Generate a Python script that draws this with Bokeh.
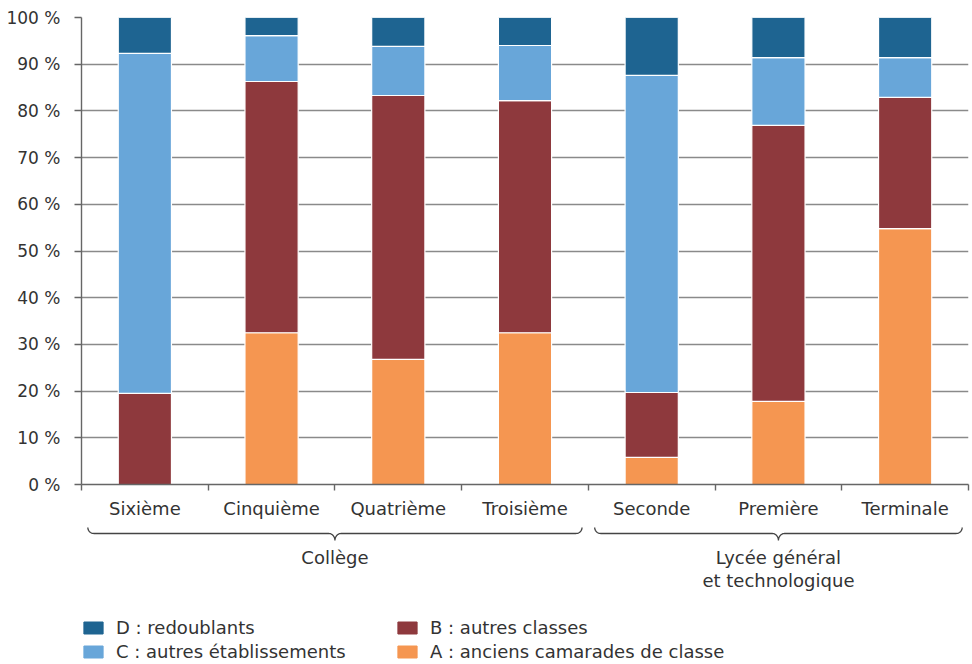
import numpy as np
from bokeh.plotting import figure
from bokeh.models import (ColumnDataSource, Range1d, FixedTicker, Legend, LegendItem)
from bokeh.layouts import column
from bokeh.core.properties import value
from bokeh.embed import file_html
from bokeh.resources import INLINE

# ---- data ----
categories = ["Sixième", "Cinquième", "Quatrième", "Troisième", "Seconde", "Première", "Terminale"]
serie_A = [0.0, 32.5, 26.8, 32.5, 5.8, 17.8, 54.8]    # anciens camarades de classe
serie_B = [19.5, 53.8, 56.5, 49.7, 13.9, 59.1, 28.1]  # autres classes
serie_C = [72.8, 9.8, 10.5, 11.8, 67.9, 14.5, 8.5]    # autres établissements
serie_D = [7.7, 3.9, 6.2, 6.0, 12.4, 8.6, 8.6]        # redoublants
y_ticks = [0, 10, 20, 30, 40, 50, 60, 70, 80, 90, 100]
groups = ["Collège", "Lycée général\net technologique"]
group_start = [0, 4]
group_end = [4, 7]
legend_labels = {"D": "D : redoublants", "C": "C : autres établissements",
                 "B": "B : autres classes", "A": "A : anciens camarades de classe"}

colors = {"A": "#f59651", "B": "#8e393d", "C": "#68a6d9", "D": "#1e6491"}
FONT = "DejaVu Sans"
FS = "18px"
FS_Y = "17px"
TXT = "#333333"

n = len(categories)
xs = [i + 0.5 for i in range(n)]
source = ColumnDataSource(dict(x=xs, A=serie_A, B=serie_B, C=serie_C, D=serie_D))

W = 970
p = figure(width=W, height=524, x_range=Range1d(0, n), y_range=Range1d(0, 100),
           output_backend="svg", toolbar_location=None,
           min_border_left=81, min_border_right=2, min_border_top=17, min_border_bottom=40)
p.outline_line_color = None
p.background_fill_color = "white"

keys = ["A", "B", "C", "D"]
p.vbar_stack(keys, x="x", width=0.42, source=source,
             fill_color=[colors[k] for k in keys], line_color="white", line_width=1.2)

# grid
p.xgrid.visible = False
p.ygrid.ticker = FixedTicker(ticks=y_ticks)
p.ygrid.grid_line_color = "#8a8a8a"
p.ygrid.grid_line_width = 1.4

# y axis
ya = p.yaxis[0]
ya.ticker = FixedTicker(ticks=y_ticks)
ya.major_label_overrides = {t: f"{t} %" for t in y_ticks}
ya.bounds = (0, 100)
ya.axis_line_color = "#666666"
ya.axis_line_width = 1.4
ya.major_tick_line_color = "#666666"
ya.major_tick_line_width = 1.4
ya.major_tick_out = 7
ya.major_tick_in = 0
ya.minor_tick_line_color = None
ya.major_label_standoff = 14
ya.major_label_text_font = FONT
ya.major_label_text_font_size = FS_Y
ya.major_label_text_color = TXT

# x axis
xa = p.xaxis[0]
xa.ticker = FixedTicker(ticks=xs, minor_ticks=list(range(n + 1)))
xa.major_label_overrides = {x: c for x, c in zip(xs, categories)}
xa.major_tick_line_color = None
xa.minor_tick_line_color = "#666666"
xa.minor_tick_line_width = 1.4
xa.minor_tick_out = 6
xa.minor_tick_in = 0
xa.axis_line_color = "#666666"
xa.axis_line_width = 1.4
xa.major_label_standoff = 7
xa.major_label_text_font = FONT
xa.major_label_text_font_size = FS
xa.major_label_text_color = TXT

# ---- lower panel: braces, group labels, legend ----
H2 = 139
p2 = figure(width=W, height=H2, x_range=p.x_range, y_range=Range1d(H2, 0),
            output_backend="svg", toolbar_location=None,
            min_border_left=81, min_border_right=2, min_border_top=0, min_border_bottom=0,
            x_axis_location=None, y_axis_location=None)
p2.grid.visible = False
p2.outline_line_color = None


def brace(x0, x1, ytop=3.0, ymid=9.0, ytip=16.0, rx=0.048):
    c = (x0 + x1) / 2
    t = np.linspace(0, np.pi / 2, 14)
    h = ymid - ytop
    d = ytip - ymid
    bx, by = [], []
    bx += list(x0 + rx - rx * np.cos(t)); by += list(ytop + h * np.sin(t))
    bx += list(c - rx + rx * np.sin(t)); by += list(ytip - d * np.cos(t))
    bx += list(c + rx - rx * np.cos(t)); by += list(ytip - d * np.sin(t))
    bx += list(x1 - rx + rx * np.sin(t)); by += list(ymid - h * (1 - np.cos(t)))
    return bx, by


bxs, bys = [], []
for s, e in zip(group_start, group_end):
    bx, by = brace(s + 0.05, e - 0.05)
    bxs.append(bx); bys.append(by)
p2.multi_line(xs=bxs, ys=bys, line_color="#444444", line_width=1.3)

p2.text(x=[(s + e) / 2 for s, e in zip(group_start, group_end)], y=[22] * len(groups), text=groups,
        text_align="center", text_baseline="top", text_font=value(FONT),
        text_font_size=FS, text_color=TXT, text_line_height=1.1)

rend = {}
for k in keys:
    rend[k] = p2.vbar(x=[float("nan")], top=[float("nan")], width=0.1,
                      fill_color=colors[k], line_color=colors[k])


def make_legend(items, loc):
    lg = Legend(items=[LegendItem(label=legend_labels[k], renderers=[rend[k]]) for k in items],
                location=loc, orientation="vertical")
    lg.glyph_width = 24
    lg.glyph_height = 15
    lg.label_standoff = 11
    lg.label_height = 20
    lg.spacing = 3
    lg.padding = 0
    lg.margin = 0
    lg.border_line_color = None
    lg.background_fill_alpha = 0
    lg.label_text_font = FONT
    lg.label_text_font_size = FS
    lg.label_text_color = TXT
    return lg


p2.add_layout(make_legend(["D", "C"], (0, 1)))
p2.add_layout(make_legend(["B", "A"], (314, 1)))

layout = column(p, p2, spacing=0)
open("out.html", "w").write(file_html(layout, INLINE))
